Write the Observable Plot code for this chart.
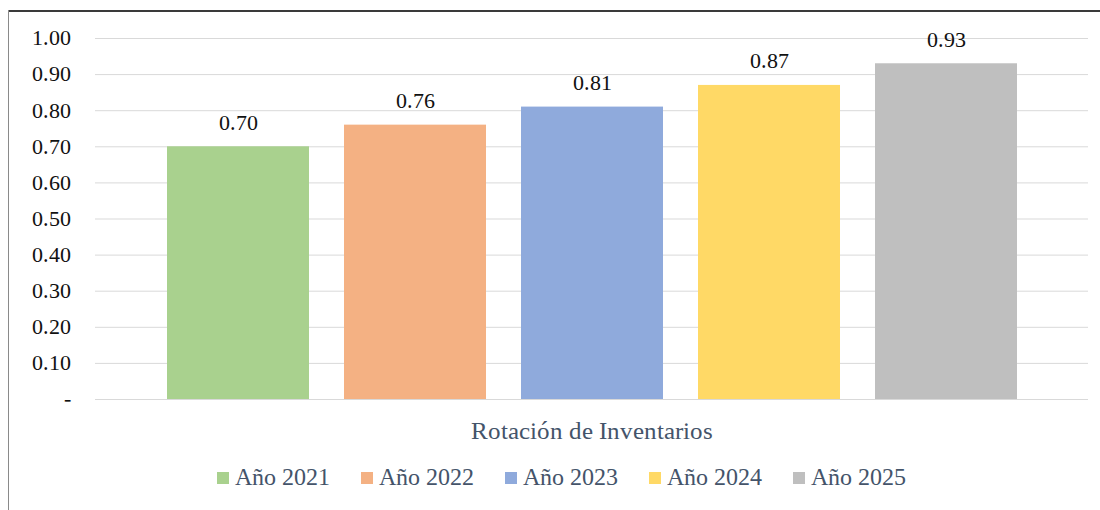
<!DOCTYPE html>
<html>
<head>
<meta charset="utf-8">
<script src="https://cdn.jsdelivr.net/npm/d3@7"></script>
<script src="https://cdn.jsdelivr.net/npm/@observablehq/plot@0.6"></script>
<style>
@font-face { font-family: 'RefSerif'; src: local('Liberation Serif'), local('LiberationSerif'), local('Tinos'), local('Times New Roman'); font-weight: 400; font-style: normal; font-display: swap; }
.wrap { position: relative; width: 1100px; height: 510px; font-family: 'RefSerif', 'Liberation Serif', 'Times New Roman', serif; }
.frameTop { position: absolute; left: 8px; top: 10px; width: 1092px; height: 0; border-top: 2px solid #3a3a3a; }
.frameLeft { position: absolute; left: 8px; top: 10px; width: 0; height: 500px; border-left: 1px solid #8a8a8a; }
.chart { position: absolute; left: 0; top: 0; }
.legend { position: absolute; left: 217px; top: 464px; display: flex; align-items: center; gap: 31px; font-size: 24px; color: #44546A; white-space: nowrap; font-family: 'RefSerif', 'Liberation Serif', 'Times New Roman', serif; }
.item { display: flex; align-items: center; gap: 6px; }
.sw { width: 12px; height: 12px; display: inline-block; }
</style>
</head>
<body style="margin:0">
<div class="wrap">
  <div class="chart" id="chart"></div>
  <div class="frameTop"></div>
  <div class="frameLeft"></div>
  <div class="legend" id="legend"></div>
</div>
<script>
const category = ["Rotación de Inventarios"];
const years = ["Año 2021", "Año 2022", "Año 2023", "Año 2024", "Año 2025"];
const values = [0.70, 0.76, 0.81, 0.87, 0.93];
const colors = ["#A9D18E", "#F4B183", "#8FAADC", "#FFD966", "#BFBFBF"];
const yTicks = [0, 0.1, 0.2, 0.3, 0.4, 0.5, 0.6, 0.7, 0.8, 0.9, 1.0];

const data = years.map((y, i) => ({year: y, value: values[i]}));
const font = "'RefSerif', 'Liberation Serif', 'Times New Roman', serif";

const chart = Plot.plot({
  width: 1100,
  height: 455,
  marginLeft: 95,
  marginRight: 12,
  marginTop: 38,
  marginBottom: 56,
  style: {fontFamily: font, background: "transparent", overflow: "visible"},
  x: {domain: years, paddingInner: 0.2, paddingOuter: 0.4, axis: null},
  y: {domain: [0, 1], axis: null},
  color: {domain: years, range: colors},
  marks: [
    Plot.ruleY(yTicks, {stroke: "#D9D9D9", strokeWidth: 1}),
    Plot.barY(data, {x: "year", y: "value", fill: "year"}),
    Plot.text(data, {x: "year", y: "value", text: d => d.value.toFixed(2), dy: -24, lineAnchor: "middle", fontSize: 21.5, fill: "#111"}),
    Plot.axisY({ticks: yTicks, tickSize: 0, tickPadding: 25, fontSize: 21.5, label: null,
      tickFormat: d => d === 0 ? "-" : d.toFixed(2), color: "#111"}),
    Plot.text(category, {text: d => d, frameAnchor: "bottom", dy: 31, lineAnchor: "middle", fontSize: 25, fill: "#44546A"})
  ]
});
document.getElementById("chart").appendChild(chart);

const legend = document.getElementById("legend");
years.forEach((y, i) => {
  const item = document.createElement("div");
  item.className = "item";
  const sw = document.createElement("span");
  sw.className = "sw";
  sw.style.background = colors[i];
  const t = document.createElement("span");
  t.textContent = y;
  item.appendChild(sw);
  item.appendChild(t);
  legend.appendChild(item);
});
</script>
</body>
</html>
